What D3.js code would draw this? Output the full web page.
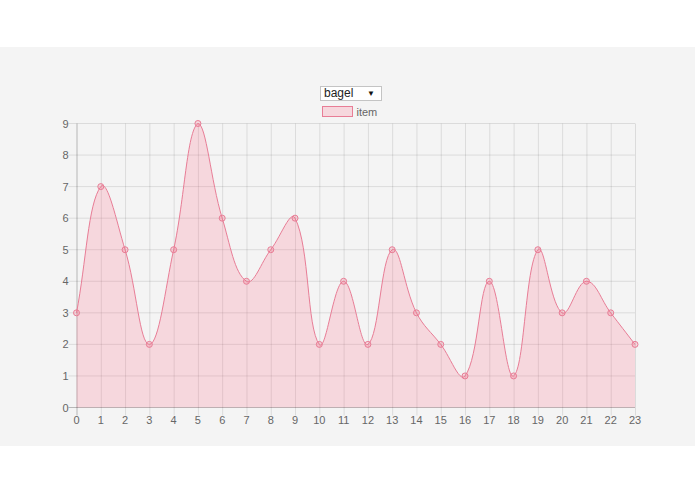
<!DOCTYPE html>
<html>
<head>
<meta charset="utf-8">
<script src="https://cdn.jsdelivr.net/npm/d3@7"></script>
<style>
  body { margin: 0; background: #fff; font-family: "Liberation Sans", Arial, sans-serif; }
  #wrap { position: relative; width: 695px; height: 494px; }
  #panel { position: absolute; left: 0; top: 47px; width: 695px; height: 399px; background: #f4f4f4; }
  #picker { position: absolute; left: 320px; top: 86px; width: 62px; height: 15px; box-sizing: border-box;
    border: 1px solid #c4c4c4; background: #fff; font-size: 12px; color: #222; }
  #picker .val { position: absolute; left: 3px; top: 0px; line-height: 13px; }
  #picker .arr { position: absolute; right: 6px; top: 0px; line-height: 13px; font-size: 8px; color: #111; }
  svg { position: absolute; left: 0; top: 0; }
</style>
</head>
<body>
<div id="wrap">
  <div id="panel"></div>
  <div id="picker"><span class="val">bagel</span><span class="arr">&#9660;</span></div>
  <svg class="chart"></svg>
</div>
<script>
// hours along the x axis and the counts for the selected item
const hours = d3.range(0, 24);
const counts = [3, 7, 5, 2, 5, 9, 6, 4, 5, 6, 2, 4, 2, 5, 3, 2, 1, 4, 1, 5, 3, 4, 3, 2];
const yTicks = [0, 1, 2, 3, 4, 5, 6, 7, 8, 9];
const seriesLabel = 'item';

const svgWidth = 695;
const svgHeight = 494;
const plotLeft = 76.5, plotRight = 635, plotTop = 123.5, plotBottom = 407.5;

const svg = d3.select('.chart')
  .attr('width', svgWidth)
  .attr('height', svgHeight);

const xScale = d3.scaleLinear().domain([0, 23]).range([plotLeft, plotRight]);
const yScale = d3.scaleLinear().domain([0, 9]).range([plotBottom, plotTop]);

// spline like the one chart.js uses (tension 0.4, control points kept in the chart area)
function SplineCurve(context) { this._context = context; }
SplineCurve.prototype = {
  areaStart() { this._line = 0; },
  areaEnd() { this._line = NaN; },
  lineStart() { this._pts = []; },
  point(x, y) { this._pts.push([+x, +y]); },
  lineEnd() {
    const p = this._pts, n = p.length, c = this._context, t = 0.4;
    if (n) {
      if (this._line) c.lineTo(p[0][0], p[0][1]); else c.moveTo(p[0][0], p[0][1]);
      const cap = (v, lo, hi) => Math.max(lo, Math.min(hi, v));
      const cps = p.map((cur, i) => {
        const prev = p[i - 1] || cur, next = p[i + 1] || cur;
        const d01 = Math.hypot(cur[0] - prev[0], cur[1] - prev[1]);
        const d12 = Math.hypot(next[0] - cur[0], next[1] - cur[1]);
        let s01 = d01 / (d01 + d12), s12 = d12 / (d01 + d12);
        if (isNaN(s01)) s01 = 0;
        if (isNaN(s12)) s12 = 0;
        const fa = t * s01, fb = t * s12;
        return {
          px: cap(cur[0] - fa * (next[0] - prev[0]), plotLeft, plotRight),
          py: cap(cur[1] - fa * (next[1] - prev[1]), plotTop, plotBottom),
          nx: cap(cur[0] + fb * (next[0] - prev[0]), plotLeft, plotRight),
          ny: cap(cur[1] + fb * (next[1] - prev[1]), plotTop, plotBottom)
        };
      });
      for (let i = 1; i < n; i++) {
        c.bezierCurveTo(cps[i - 1].nx, cps[i - 1].ny, cps[i].px, cps[i].py, p[i][0], p[i][1]);
      }
    }
    if (this._line || (this._line !== 0 && n === 1)) c.closePath();
    this._line = 1 - this._line;
  }
};
const splineCurve = context => new SplineCurve(context);

const data = hours.map((h, i) => ({ hour: h, count: counts[i] }));

// grid lines
const grid = svg.append('g');
grid.selectAll('line.v')
  .data(hours)
  .enter()
  .append('line')
  .attr('x1', d => xScale(d) + 0.5).attr('x2', d => xScale(d) + 0.5)
  .attr('y1', plotTop).attr('y2', plotBottom + 8)
  .attr('stroke', d => d === 0 ? 'rgba(0,0,0,0.25)' : 'rgba(0,0,0,0.1)')
  .attr('stroke-width', 1);

grid.selectAll('line.h')
  .data(yTicks)
  .enter()
  .append('line')
  .attr('x1', plotLeft - 8).attr('x2', plotRight)
  .attr('y1', d => yScale(d)).attr('y2', d => yScale(d))
  .attr('stroke', d => d === 0 ? 'rgba(0,0,0,0.25)' : 'rgba(0,0,0,0.1)')
  .attr('stroke-width', 1);

// area + line
const area = d3.area()
  .x(d => xScale(d.hour))
  .y0(yScale(0))
  .y1(d => yScale(d.count))
  .curve(splineCurve);

const line = d3.line()
  .x(d => xScale(d.hour))
  .y(d => yScale(d.count))
  .curve(splineCurve);

svg.append('path')
  .datum(data)
  .attr('fill', 'rgba(255,99,132,0.2)')
  .attr('d', area);

svg.append('path')
  .datum(data)
  .attr('fill', 'none')
  .attr('stroke', 'rgb(232,125,150)')
  .attr('stroke-width', 1)
  .attr('d', line);

svg.selectAll('circle.pt')
  .data(data)
  .enter()
  .append('circle')
  .attr('class', 'pt')
  .attr('cx', d => xScale(d.hour))
  .attr('cy', d => yScale(d.count))
  .attr('r', 3)
  .attr('fill', 'rgba(255,99,132,0.2)')
  .attr('stroke', 'rgb(232,125,150)')
  .attr('stroke-width', 1);

// tick labels
svg.selectAll('text.ytick')
  .data(yTicks)
  .enter()
  .append('text')
  .attr('x', plotLeft - 8)
  .attr('y', d => yScale(d) + 4)
  .attr('text-anchor', 'end')
  .attr('fill', '#666')
  .attr('font-size', '11px')
  .text(d => d);

svg.selectAll('text.xtick')
  .data(hours)
  .enter()
  .append('text')
  .attr('x', d => xScale(d))
  .attr('y', plotBottom + 16.5)
  .attr('text-anchor', 'middle')
  .attr('fill', '#666')
  .attr('font-size', '11px')
  .text(d => d);

// legend
const legend = svg.append('g').attr('transform', 'translate(322.5,106.5)');
legend.append('rect')
  .attr('width', 30)
  .attr('height', 10)
  .attr('fill', 'rgba(255,99,132,0.2)')
  .attr('stroke', 'rgb(232,125,150)')
  .attr('stroke-width', 1);
legend.append('text')
  .attr('x', 34)
  .attr('y', 9)
  .attr('fill', '#666')
  .attr('font-size', '11px')
  .text(seriesLabel);
</script>
</body>
</html>
